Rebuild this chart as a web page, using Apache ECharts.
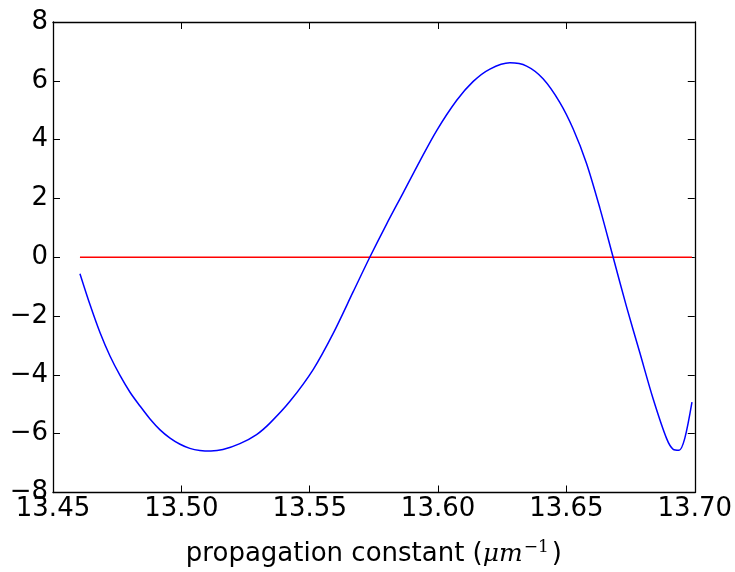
<!DOCTYPE html>
<html>
<head>
<meta charset="utf-8">
<script src="https://cdn.jsdelivr.net/npm/echarts@6/dist/echarts.min.js"></script>
<style>html,body{margin:0;padding:0;background:#fff;}#c{width:735px;height:572px;}</style>
</head>
<body>
<div id="c"></div>
<script>
// propagation constant (μm^-1)
const betaValues = [13.4605, 13.4644, 13.4683, 13.4722, 13.4761, 13.4800, 13.4839, 13.4878, 13.4917,
  13.4956, 13.4995, 13.5033, 13.5072, 13.5115, 13.5162, 13.5228, 13.5293, 13.5345, 13.5423, 13.5514,
  13.5592, 13.5669, 13.5734, 13.5799, 13.5864, 13.5929, 13.5994, 13.6072, 13.6137, 13.6202, 13.6280,
  13.6345, 13.6409, 13.6474, 13.6526, 13.6578, 13.6630, 13.6682, 13.6734, 13.6786, 13.6838, 13.6890,
  13.6916, 13.6939, 13.6961, 13.6989];
const curveValues = [-0.56, -1.61, -2.56, -3.36, -4.02, -4.59, -5.06, -5.50, -5.87,
  -6.15, -6.36, -6.50, -6.57, -6.59, -6.54, -6.34, -6.03, -5.64, -4.90, -3.81,
  -2.58, -1.18, 0.00, 1.12, 2.19, 3.27, 4.30, 5.33, 5.98, 6.40, 6.61,
  6.50, 6.07, 5.27, 4.37, 3.20, 1.68, 0.00, -1.68, -3.25, -4.82, -6.16,
  -6.53, -6.56, -6.16, -4.93];
const zeroLineX = [13.4605, 13.6989];
const zeroLineY = [0, 0];
const xTicks = ['13.45', '13.50', '13.55', '13.60', '13.65', '13.70'];
const yTicks = [-8, -6, -4, -2, 0, 2, 4, 6, 8];

const chart = echarts.init(document.getElementById('c'), null, {renderer: 'canvas'});
const font = 'DejaVu Sans';
const axisLineStyle = {color: '#000', width: 1.3};
function xAxisBase(pos, showLabel) {
  return {
    type: 'value', position: pos, min: 13.45, max: 13.70, interval: 0.05,
    axisLine: {show: true, onZero: false, lineStyle: axisLineStyle},
    axisTick: {show: true, inside: true, length: 7, lineStyle: {color: '#000', width: 1}},
    splitLine: {show: false},
    axisLabel: {show: showLabel, fontFamily: font, fontSize: 26, color: '#000', margin: 4,
      formatter: v => xTicks[Math.round((v - 13.45) / 0.05)] || v.toFixed(2)}
  };
}
function yAxisBase(pos, showLabel) {
  return {
    type: 'value', position: pos, min: yTicks[0], max: yTicks[yTicks.length - 1], interval: 2,
    axisLine: {show: true, onZero: false, lineStyle: axisLineStyle},
    axisTick: {show: true, inside: true, length: 7, lineStyle: {color: '#000', width: 1}},
    splitLine: {show: false},
    axisLabel: {show: showLabel, fontFamily: font, fontSize: 26, color: '#000', margin: 5,
      formatter: v => String(Math.round(v)).replace('-', '\u2212')}
  };
}
const bottomX = xAxisBase('bottom', true);
bottomX.name = '{n|propagation constant (}{m|\u03bcm}{s|\u22121}{n|)}';
bottomX.nameLocation = 'middle';
bottomX.nameGap = 47;
bottomX.nameTextStyle = {
  rich: {
    n: {fontFamily: font, fontSize: 26, color: '#000'},
    m: {fontFamily: 'DejaVu Serif', fontStyle: 'italic', fontSize: 25, color: '#000'},
    s: {fontFamily: 'DejaVu Serif', fontSize: 17, color: '#000', verticalAlign: 'top', padding: [0, 3, 12, 1]}
  }
};

chart.setOption({
  animation: false,
  backgroundColor: '#fff',
  grid: {left: 53, right: 40, top: 22, bottom: 74, containLabel: false},
  xAxis: [bottomX, xAxisBase('top', false)],
  yAxis: [yAxisBase('left', true), yAxisBase('right', false)],
  series: [
    {
      type: 'line', xAxisIndex: 0, yAxisIndex: 0,
      data: zeroLineX.map((x, i) => [x, zeroLineY[i]]),
      showSymbol: false, lineStyle: {color: '#ff0000', width: 1.5}
    },
    {
      type: 'line', xAxisIndex: 0, yAxisIndex: 0,
      data: betaValues.map((x, i) => [x, curveValues[i]]),
      showSymbol: false, smooth: 0.3, lineStyle: {color: '#0000ff', width: 1.5}
    }
  ]
});
</script>
</body>
</html>
